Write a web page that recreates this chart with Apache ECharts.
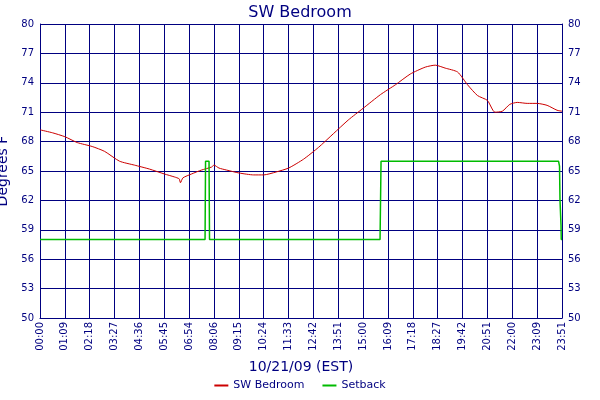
<!DOCTYPE html>
<html><head><meta charset="utf-8">
<script src="https://cdn.jsdelivr.net/npm/echarts@6/dist/echarts.min.js"></script>
<style>html,body{margin:0;padding:0;background:#fff}#c{width:600px;height:400px}</style>
</head><body><div id="c"></div>
<script>
var tickLabels = ["00:00","01:09","02:18","03:27","04:36","05:45","06:54","08:06","09:15","10:24","11:33","12:42","13:51","15:00","16:09","17:18","18:27","19:42","20:51","22:00","23:09","23:51"];
var yTicks = [50,53,56,59,62,65,68,71,74,77,80];
// x in tick-index units, y in degrees F
var bedroomX = [0,0.5,1,1.5,2.1,2.6,3.2,3.8,4.4,5,5.4,5.6,5.65,5.75,6.1,6.5,6.9,7.0,7.2,7.5,8,8.6,9,9.5,10,10.6,11.2,11.8,12.4,13,13.7,14.3,14.9,15.5,15.9,16.3,16.8,17.2,17.6,18,18.3,18.6,18.9,19.2,19.6,20,20.4,20.8,21];
var bedroomY = [69.2,68.9,68.5,67.9,67.5,67.0,66.0,65.6,65.2,64.7,64.4,64.2,63.8,64.3,64.7,65.1,65.4,65.6,65.3,65.1,64.8,64.6,64.6,64.9,65.3,66.2,67.4,68.8,70.2,71.4,72.8,73.8,74.9,75.6,75.8,75.5,75.1,73.8,72.7,72.2,71.0,71.1,71.8,72.0,71.9,71.9,71.7,71.2,71.1];
var setbackX = [0,6.64,6.66,6.80,6.82,13.68,13.70,13.72,20.86,20.90,20.92,20.96,20.97,21.0];
var setbackY = [58,58,66,66,58,58,62,66,66,65.5,62,59.5,58,58];

function pairs(xs, ys){ return xs.map(function(x,i){return [x, ys[i]];}); }
var navy = '#000080';
var chart = echarts.init(document.getElementById('c'));
chart.setOption({
  backgroundColor:'#fff',
  animation:false,
  title:{text:'SW Bedroom', left:'center', top:0, textStyle:{color:navy, fontSize:16, fontWeight:'normal', fontFamily:'DejaVu Sans'}},
  grid:{left:40, right:38, top:24, bottom:82, containLabel:false, outerBoundsMode:'none'},
  legend:{bottom:4, left:'center', itemWidth:14, itemHeight:2, icon:'rect', itemGap:18,
    textStyle:{color:navy, fontSize:11, fontFamily:'DejaVu Sans'}, data:['SW Bedroom','Setback']},
  xAxis:{type:'value', min:0, max:21, interval:1,
    name:'10/21/09 (EST)', nameLocation:'middle', nameGap:42,
    nameTextStyle:{color:navy, fontSize:14, fontFamily:'DejaVu Sans'},
    axisLine:{lineStyle:{color:navy}}, axisTick:{show:false},
    splitLine:{show:true, lineStyle:{color:navy, width:1}},
    axisLabel:{rotate:90, color:navy, fontSize:10, fontFamily:'DejaVu Sans', margin:4,
      formatter:function(v){return tickLabels[Math.round(v)]||'';}}},
  yAxis:[{type:'value', min:50, max:80, interval:3, name:'Degrees F', nameLocation:'middle', nameGap:26,
    nameTextStyle:{color:navy, fontSize:14, fontFamily:'DejaVu Sans'},
    axisLine:{show:true, lineStyle:{color:navy}}, axisTick:{show:false},
    splitLine:{show:true, lineStyle:{color:navy}},
    axisLabel:{color:navy, fontSize:10, fontFamily:'DejaVu Sans', margin:6}},
   {type:'value', min:50, max:80, interval:3, position:'right',
    axisLine:{show:true, lineStyle:{color:navy}}, axisTick:{show:false}, splitLine:{show:false},
    axisLabel:{color:navy, fontSize:10, fontFamily:'DejaVu Sans', margin:6}}],
  series:[
    {name:'SW Bedroom', type:'line', data:pairs(bedroomX,bedroomY), showSymbol:false, smooth:0.2,
     lineStyle:{color:'#cc0000', width:1}, itemStyle:{color:'#cc0000'}},
    {name:'Setback', type:'line', data:pairs(setbackX,setbackY), showSymbol:false, clip:true,
     lineStyle:{color:'#00bb00', width:1.5}, itemStyle:{color:'#00bb00'}}
  ]
});
</script></body></html>
